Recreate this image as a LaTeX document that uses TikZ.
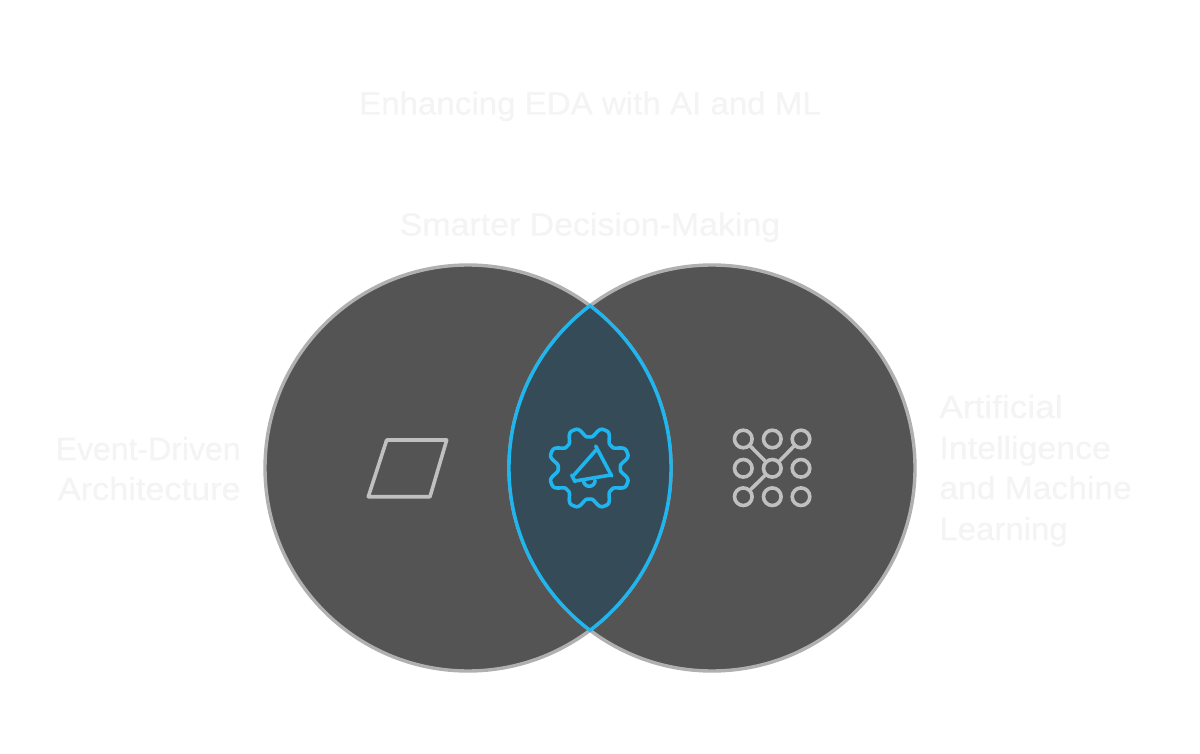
\documentclass[tikz,border=0pt]{standalone}
\usepackage{fontspec}
\setmainfont{Liberation Sans}
\newcommand{\lbl}[1]{\fontsize{16}{20.5}\selectfont\addfontfeature{FakeStretch=#1,FakeBold=0.25}}
\definecolor{circfill}{HTML}{545454}
\definecolor{circline}{HTML}{B0B0B0}
\definecolor{lensfill}{HTML}{354B57}
\definecolor{lensline}{HTML}{1FB5EE}
\definecolor{icongray}{HTML}{C0C0C0}
\definecolor{faint}{HTML}{F4F4F5}
\tikzset{
  label text/.style={text=faint,inner sep=0pt},
  grayicon/.style={draw=icongray,line width=1.8pt,line join=round,line cap=round},
  blueicon/.style={draw=lensline,line width=1.8pt,line join=round,line cap=round},
  dot/.style={circle,draw=icongray,line width=1.8pt,minimum size=8.8pt,inner sep=0pt}
}
\pgfmathdeclarefunction{gearr}{1}{%
  \pgfmathparse{36+5.6*(cos(8*(#1-22.5))-0.12*cos(24*(#1-22.5)))}%
}
\begin{document}
\begin{tikzpicture}[x=0.5pt,y=-0.5pt]
\useasboundingbox (0,0) rectangle (1200,754);
\fill[white] (0,0) rectangle (1200,754);
% circles
\fill[circfill] (468,468) circle[radius=203];
\fill[circfill] (712,468) circle[radius=203];
\draw[circline,line width=1.7pt] (468,468) circle[radius=203];
\draw[circline,line width=1.7pt] (712,468) circle[radius=203];
% lens
\begin{scope}
\clip (468,468) circle[radius=203];
\fill[lensfill] (712,468) circle[radius=203];
\end{scope}
\begin{scope}
\clip (468,468) circle[radius=204];
\draw[lensline,line width=1.7pt] (712,468) circle[radius=203];
\end{scope}
\begin{scope}
\clip (712,468) circle[radius=204];
\draw[lensline,line width=1.7pt] (468,468) circle[radius=203];
\end{scope}
% parallelogram
\draw[grayicon] (386.7,440) -- (446.7,440) -- (430,496.7) -- (368.3,496.7) -- cycle;
% gear
\draw[blueicon] plot[domain=0:360,samples=181,smooth] ({589.3+gearr(\x)*cos(\x)},{468+gearr(\x)*sin(\x)}) -- cycle;
% megaphone
\draw[blueicon] (595.7,446) -- (611.7,476);
\draw[blueicon] (571.7,475) -- (575,481.7);
\draw[blueicon] (573.5,475.5) -- (597,449);
\draw[blueicon] (575,481) -- (611,475);
\draw[blueicon] (583.5,480.5) arc[start angle=180,delta angle=-180,radius=5.8];
% dot matrix
\foreach \n/\cx/\cy in {a/743.3/439,b/772.3/439,c/801/439,d/743.3/468.3,e/772.3/468.3,f/801/468.3,g/743.3/496.7,h/772.3/496.7,i/801/496.7}
  \node[dot] (\n) at (\cx,\cy) {};
\draw[grayicon] (a) -- (e);
\draw[grayicon] (c) -- (e);
\draw[grayicon] (g) -- (e);
% labels
\node[label text,anchor=base] (title) at (590,114.5) {\lbl{1.034}Enhancing EDA with AI and ML};
\node[label text,anchor=base] (sub) at (590,235.5) {\lbl{1.059}Smarter Decision-Making};
\node[label text,anchor=base east] (ev1) at (241,460) {\lbl{1.0}Event-Driven};
\node[label text,anchor=base east] (ev2) at (241,500) {\lbl{1.07}Architecture};
\node[label text,anchor=base west] (ai1) at (939,418) {\lbl{1.10}Artificial};
\node[label text,anchor=base west] (ai2) at (939,459) {\lbl{1.06}Intelligence};
\node[label text,anchor=base west] (ai3) at (939,499) {\lbl{1.05}and Machine};
\node[label text,anchor=base west] (ai4) at (939,540) {\lbl{1.03}Learning};
\end{tikzpicture}
\end{document}
